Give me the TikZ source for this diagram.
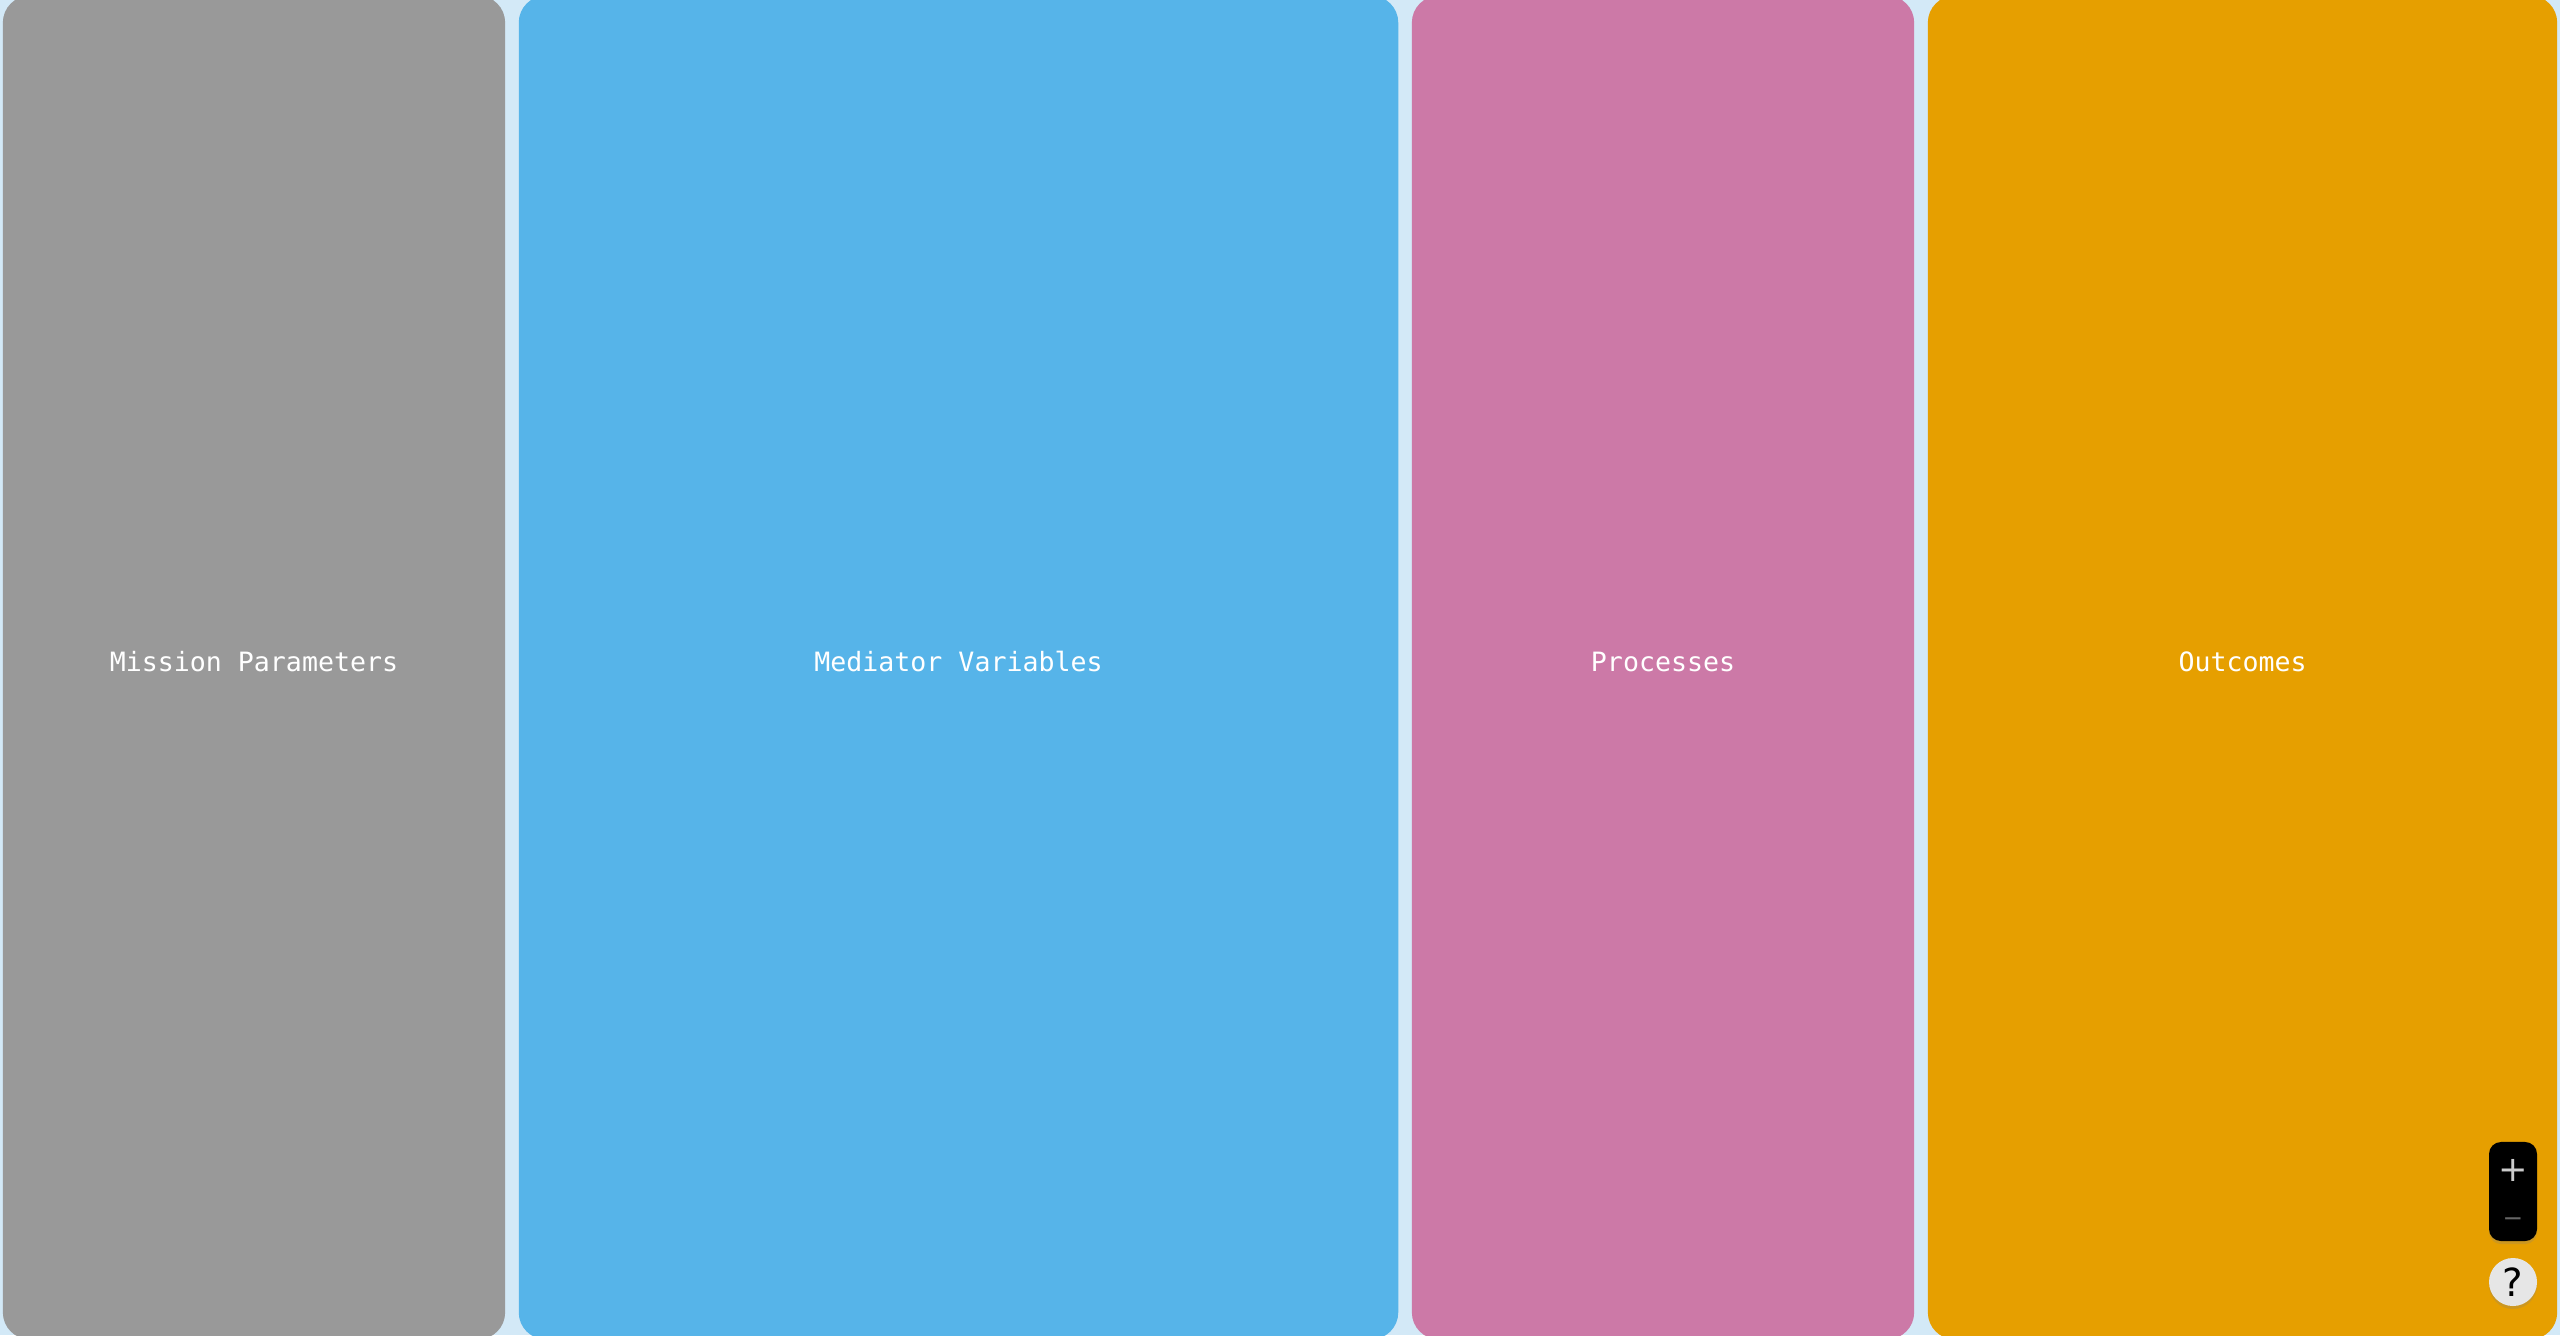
\documentclass[tikz,border=0pt]{standalone}
\usepackage{fontspec}
\setmonofont{DejaVu Sans Mono}
\newfontfamily\ctrlfont{DejaVu Sans}
\usetikzlibrary{shadows}
\definecolor{bgc}{HTML}{D3E9F7}
\definecolor{colgray}{HTML}{999999}
\definecolor{colblue}{HTML}{56B4E9}
\definecolor{colpink}{HTML}{CC79A7}
\definecolor{colorange}{HTML}{E69F00}
\definecolor{qfill}{HTML}{E6E6E6}
\definecolor{plusc}{HTML}{CCCCCC}
\definecolor{minusc}{HTML}{666666}
\tikzset{
  column/.style={draw=none, rounded corners=0.27cm, minimum height=13.43cm, inner sep=0pt},
  lbl/.style={text=white, font=\ttfamily\fontsize{7.56}{9}\selectfont, inner sep=0pt},
  ctrlbox/.style={fill=black, rounded corners=0.12cm, minimum width=0.48cm, minimum height=0.99cm, inner sep=0pt,
    drop shadow={shadow xshift=0pt, shadow yshift=-0.03cm, opacity=0.25}},
  qbtn/.style={circle, fill=qfill, minimum size=0.48cm, inner sep=0pt,
    drop shadow={shadow xshift=0pt, shadow yshift=-0.03cm, opacity=0.25}}
}
\begin{document}
\begin{tikzpicture}[x=0.01cm, y=-0.01cm]
\useasboundingbox (0,0) rectangle (2560,1335);
\fill[bgc] (0,0) rectangle (2560,1335);
\begin{scope}
\clip (0,0) rectangle (2560,1335);
\node[column, fill=colgray, minimum width=5.02cm] (mp) at (254,667.5) {};
\node[column, fill=colblue, minimum width=8.79cm] (mv) at (958.5,667.5) {};
\node[column, fill=colpink, minimum width=5.02cm] (pr) at (1663,667.5) {};
\node[column, fill=colorange, minimum width=6.29cm] (oc) at (2242.5,667.5) {};
\end{scope}
\node[lbl] (mpt) at ([yshift=0.06cm]mp.center) {Mission Parameters};
\node[lbl] (mvt) at ([yshift=0.06cm]mv.center) {Mediator Variables};
\node[lbl] (prt) at ([yshift=0.06cm]pr.center) {Processes};
\node[lbl] (oct) at ([yshift=0.06cm]oc.center) {Outcomes};
% zoom controls
\node[ctrlbox] (zc) at (2513,1191.5) {};
\node[text=plusc, font=\ctrlfont\fontsize{10}{12}\selectfont, inner sep=0pt] (zplus) at (2513,1170) {+};
\node[text=minusc, font=\ctrlfont\fontsize{7}{8}\selectfont, inner sep=0pt] (zminus) at (2513,1222) {−};
\node[qbtn] (help) at (2513,1282) {};
\node[text=black, font=\ctrlfont\fontsize{11}{13}\selectfont, inner sep=0pt] (helpq) at (help.center) {?};
\end{tikzpicture}
\end{document}
